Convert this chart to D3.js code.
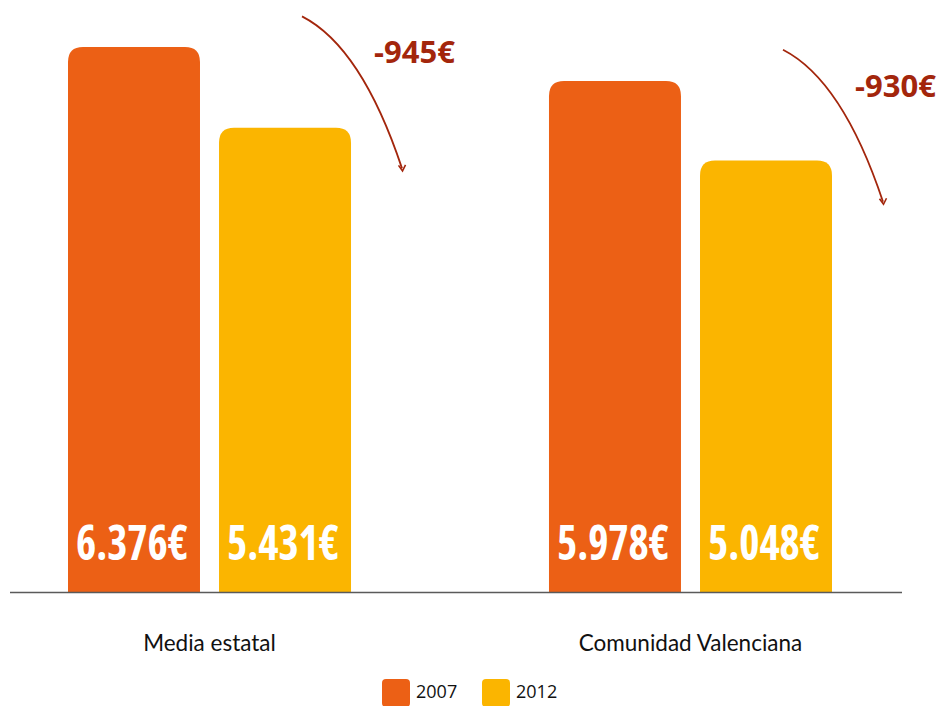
<!DOCTYPE html>
<html>
<head>
<meta charset="utf-8">
<script src="https://cdn.jsdelivr.net/npm/d3@7"></script>
<style>
  body { margin: 0; background: #fff; }
  svg { display: block; }
</style>
</head>
<body>
<svg id="chart" width="939" height="706"></svg>
<script>
// chart data
const categories = ['Media estatal', 'Comunidad Valenciana'];
const years = ['2007', '2012'];
const values2007 = [6376, 5978];
const values2012 = [5431, 5048];
const valueLabels2007 = ['6.376€', '5.978€'];
const valueLabels2012 = ['5.431€', '5.048€'];
const changeLabels = ['-945€', '-930€'];

const colors = { '2007': '#ec6015', '2012': '#fbb500' };
const baseY = 592;

const svg = d3.select('#chart');

const x0 = d3
  .scaleBand()
  .domain(categories)
  .range([68, 832])
  .paddingInner(0.4116)
  .paddingOuter(0);

const x1 = d3
  .scaleBand()
  .domain(years)
  .range([0, x0.bandwidth()])
  .paddingInner(0.126)
  .paddingOuter(0);

const y = d3.scaleLinear().domain([0, 6376]).range([baseY, 47]);

const rows = categories.map((c, i) => ({
  name: c,
  bars: [
    { year: '2007', value: values2007[i], label: valueLabels2007[i] },
    { year: '2012', value: values2012[i], label: valueLabels2012[i] },
  ],
  change: changeLabels[i],
}));

// rounded-top bar path
const barPath = (x, top, w, r) =>
  `M${x},${baseY}V${top + r}Q${x},${top} ${x + r},${top}H${x + w - r}Q${x + w},${top} ${x + w},${top + r}V${baseY}Z`;

const groups = svg
  .append('g')
  .attr('class', 'plot-area')
  .selectAll('.group')
  .data(rows)
  .join('g')
  .attr('class', 'group')
  .attr('transform', (d) => `translate(${x0(d.name)},0)`);

groups
  .selectAll('.bar')
  .data((d) => d.bars)
  .join('path')
  .attr('class', 'bar')
  .attr('fill', (d) => colors[d.year])
  .attr('d', (d) => barPath(x1(d.year), y(d.value), x1.bandwidth(), 15));

groups
  .selectAll('.value')
  .data((d) => d.bars)
  .join('text')
  .attr('class', 'value')
  .attr('x', (d) => x1(d.year) + x1.bandwidth() / 2 - 2)
  .attr('y', 560)
  .attr('text-anchor', 'middle')
  .attr('fill', '#fff')
  .attr('font-family', '"Open Sans", sans-serif')
  .style('font-stretch', 'condensed')
  .attr('font-weight', 'bold')
  .attr('font-size', 48)
  .attr('textLength', 112)
  .attr('lengthAdjust', 'spacingAndGlyphs')
  .text((d) => d.label);

// baseline
svg
  .append('line')
  .attr('x1', 10)
  .attr('x2', 902)
  .attr('y1', baseY + 0.5)
  .attr('y2', baseY + 0.5)
  .attr('stroke', '#5a5a5a')
  .attr('stroke-width', 1.5);

// category labels via axis
const xAxis = (g) =>
  g
    .attr('transform', `translate(0,${baseY})`)
    .call(d3.axisBottom(x0).tickSize(0).tickPadding(43))
    .call((g) => g.select('.domain').remove())
    .call((g) =>
      g
        .selectAll('text')
        .attr('fill', '#111')
        .attr('font-family', 'Lato, "Open Sans", sans-serif')
        .attr('font-size', 22.5)
    );
svg.append('g').attr('class', 'x-axis').call(xAxis);

// change arrows, anchored between the two bar tops of each group
const arrowColor = '#a3260c';
const arrows = svg
  .append('g')
  .selectAll('.change')
  .data(rows)
  .join('g')
  .attr('class', 'change')
  .attr('transform', (d) => {
    const right = x0(d.name) + x1('2012') + x1.bandwidth();
    const mid = (y(d.bars[0].value) + y(d.bars[1].value)) / 2;
    return `translate(${right},${mid})`;
  });

arrows
  .append('path')
  .attr('d', 'M-49,-71Q10.5,-40.5 51,81')
  .attr('fill', 'none')
  .attr('stroke', arrowColor)
  .attr('stroke-width', 1.8);

arrows
  .append('path')
  .attr('d', 'M47.5,78L51.5,83.5L54.5,77.5')
  .attr('fill', 'none')
  .attr('stroke', arrowColor)
  .attr('stroke-width', 1.6);

arrows
  .append('text')
  .attr('x', 23)
  .attr('y', -24)
  .attr('fill', arrowColor)
  .attr('font-family', '"Open Sans", sans-serif')
  .attr('font-weight', 'bold')
  .attr('font-size', 31)
  .text((d) => d.change);

// legend
const legend = svg
  .append('g')
  .attr('class', 'legend')
  .selectAll('g')
  .data(years)
  .join('g')
  .attr('transform', (d, i) => `translate(${382 + i * 100},679)`);

legend
  .append('rect')
  .attr('width', 28)
  .attr('height', 28)
  .attr('rx', 4)
  .attr('fill', (d) => colors[d]);

legend
  .append('text')
  .attr('x', 34)
  .attr('y', 19)
  .attr('fill', '#111')
  .attr('font-family', '"Open Sans", sans-serif')
  .attr('font-size', 18)
  .text((d) => d);
</script>
</body>
</html>
